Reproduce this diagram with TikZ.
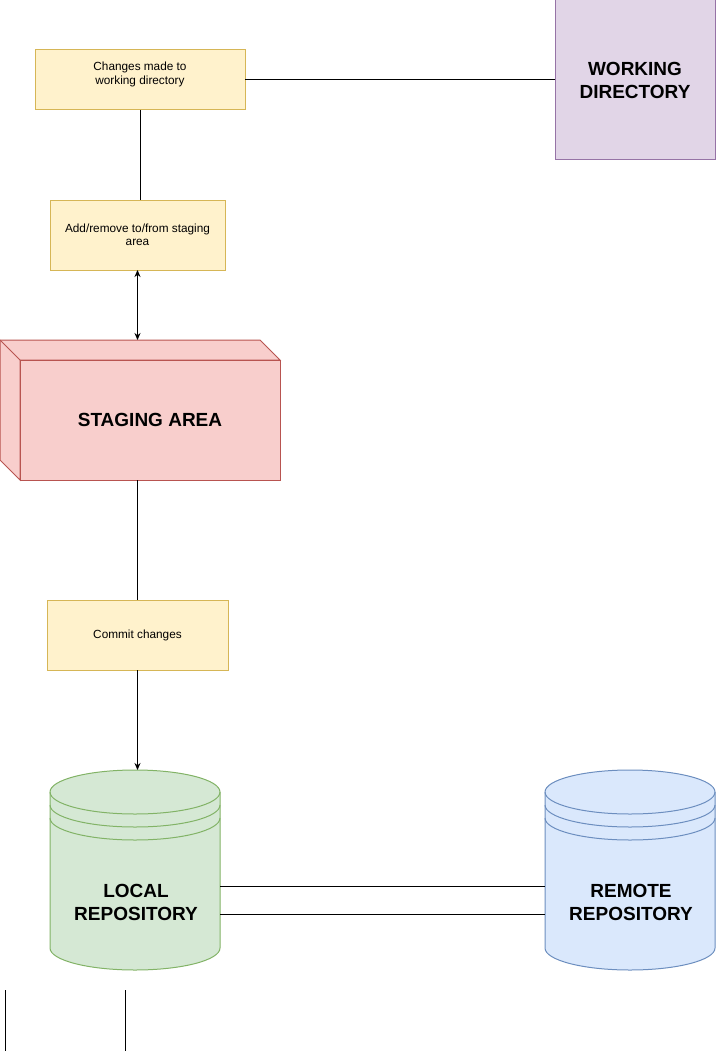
\documentclass[tikz,border=0pt]{standalone}
\usepackage{fontspec}
\setmainfont{Liberation Sans}
\usetikzlibrary{arrows.meta}
\definecolor{noteFill}{HTML}{FFF2CC}
\definecolor{noteLine}{HTML}{D6B656}
\definecolor{stageFill}{HTML}{F8CECC}
\definecolor{stageLine}{HTML}{B85450}
\definecolor{wdFill}{HTML}{E1D5E7}
\definecolor{wdLine}{HTML}{9673A6}
\definecolor{localFill}{HTML}{D5E8D4}
\definecolor{localLine}{HTML}{82B366}
\definecolor{remoteFill}{HTML}{DAE8FC}
\definecolor{remoteLine}{HTML}{6C8EBF}
\tikzset{
  note/.style={draw=noteLine, fill=noteFill, line width=1pt, inner sep=0pt, outer sep=0pt,
    align=center, font=\fontsize{11.8}{13.5}\selectfont},
  big/.style={align=center, font=\fontsize{19}{23}\selectfont\bfseries},
  link/.style={line width=1pt},
  tip/.style={line width=1pt, -{Stealth[length=7pt,width=6pt]}},
  twotip/.style={line width=1pt, {Stealth[length=7pt,width=6pt]}-{Stealth[length=7pt,width=6pt]}},
}
\begin{document}
\begin{tikzpicture}[x=1pt, y=1pt]
    \useasboundingbox (0,0) rectangle (716,-1051);
    \node[note, minimum width=210, minimum height=60, text depth=14pt] (chg) at (140,-80) {Changes made to\\working directory};
    \node[note, minimum width=175, minimum height=70] (add) at (137.5,-235) {Add/remove to/from staging\\area};
    \node[note, minimum width=181, minimum height=70] (commit) at (137.5,-635) {Commit changes};
    \node[big, draw=wdLine, fill=wdFill, line width=1pt, minimum width=160, minimum height=160, outer sep=0pt] (wd) at (635,-80) {WORKING\\DIRECTORY};
    \filldraw[fill=stageFill, draw=stageLine, line width=1pt] (0,-340) -- (260,-340) -- (280,-360) -- (20,-360) -- (20,-480) -- (0,-460) -- cycle;
    \draw[stageLine, line width=1pt] (0,-340) -- (20,-360);
    \node[big, draw=stageLine, fill=stageFill, line width=1pt, minimum width=260, minimum height=120, outer sep=0pt] (stg) at (150,-420) {STAGING AREA};
    \coordinate (stgtop) at (137.5,-340);
    \foreach \x/\f/\l in {50/localFill/localLine, 545/remoteFill/remoteLine}{
      \filldraw[fill=\f, draw=\l, line width=1pt] (\x,-792) -- (\x,-948) arc[start angle=180, end angle=360, x radius=85, y radius=22] -- (\x+170,-792) arc[start angle=0, end angle=180, x radius=85, y radius=22] -- cycle;
      \foreach \y in {792,805,818}
        \draw[\l, line width=1pt] (\x,-\y) arc[start angle=180, end angle=360, x radius=85, y radius=22];
    }
    \node[minimum width=170, minimum height=200, inner sep=0pt, outer sep=0pt] (local) at (135,-870) {};
    \node[minimum width=170, minimum height=200, inner sep=0pt, outer sep=0pt] (remote) at (630,-870) {};
    \node[big] (localtxt) at (136,-902) {LOCAL\\REPOSITORY};
    \node[big] (remotetxt) at (631,-902) {REMOTE\\REPOSITORY};
    \coordinate (a1) at (5,-990);
    \coordinate (a2) at (5,-1051);
    \coordinate (b1) at (125,-990);
    \coordinate (b2) at (125,-1051);
    \draw[link] (chg.east) -- (wd.west);
    \draw[link] (chg.south) -- (chg.south |- add.north);
    \draw[twotip] (add.south) -- (stgtop);
    \draw[link] (commit.north |- stg.south) -- (commit.north);
    \draw[tip] (commit.south) -- (commit.south |- local.north);
    \draw[link] ([yshift=-16]local.east) -- ([yshift=-16]remote.west);
    \draw[link] ([yshift=-44]local.east) -- ([yshift=-44]remote.west);
    \draw[link] (a1) -- (a2);
    \draw[link] (b1) -- (b2);
\end{tikzpicture}
\end{document}
